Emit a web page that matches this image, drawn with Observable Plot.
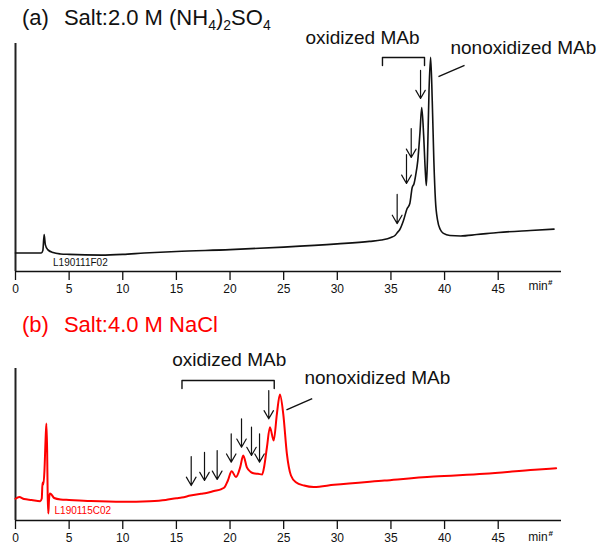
<!DOCTYPE html>
<html>
<head>
<meta charset="utf-8">
<script src="https://cdn.jsdelivr.net/npm/d3@7"></script>
<script src="https://cdn.jsdelivr.net/npm/@observablehq/plot@0.6"></script>
<style>
  html, body { margin: 0; padding: 0; background: #fff; }
  #wrap { position: relative; width: 608px; height: 556px; background: #fff; font-family: "Liberation Sans", Arial, sans-serif; }
  #wrap svg { position: absolute; left: 0; }
  .title { position: absolute; left: 22px; font-size: 22px; line-height: 22px; white-space: nowrap; color: #111; }
  .title .sub { font-size: 14px; position: relative; top: 5px; }
  .title .gap { display: inline-block; width: 15px; }
</style>
</head>
<body>
<div id="wrap">
  <div class="title" id="tA" style="top:7px;">(a)<span class="gap"></span>Salt:2.0 M (NH<span class="sub">4</span>)<span class="sub">2</span>SO<span class="sub">4</span></div>
  <div class="title" id="tB" style="top:314px; color:#ff0000;">(b)<span class="gap"></span>Salt:4.0 M NaCl</div>
</div>
<script>
// ---------- data ----------
const xTicks = [0, 5, 10, 15, 20, 25, 30, 35, 40, 45];

// (a) 2.0 M (NH4)2SO4 chromatogram: retention time (min) and signal (arbitrary units)
const topTime = [0, 2.4, 2.55, 2.67, 2.78, 3.0, 3.5, 4.2, 5, 8, 10, 12, 15, 20, 25, 30, 33, 34.1, 35, 35.4, 35.6, 35.8, 36.17, 36.5, 36.76, 36.98, 37.15, 37.3, 37.5, 37.7, 37.87, 38.05, 38.2, 38.3, 38.4, 38.55, 38.7, 38.85, 39.0, 39.15, 39.35, 39.6, 39.9, 40.5, 41.5, 43, 45, 48, 50.2];
const topSignal = [8.1, 8.1, 9.2, 16.2, 11.8, 9.6, 8.3, 7.7, 7.5, 7.2, 7.5, 8.1, 8.8, 9.6, 10.7, 12.1, 13.2, 13.8, 14.9, 15.9, 17.1, 18.2, 22.4, 27.5, 29.8, 36.8, 38.5, 42.1, 48.5, 60.5, 71.9, 59.6, 44.3, 37.7, 48.7, 79.4, 93.9, 75, 48.7, 31.1, 22.4, 18.4, 16.7, 15.8, 15.6, 16.2, 17.1, 18.0, 18.6];

// (b) 4.0 M NaCl chromatogram
const botTime = [0, 0.35, 0.8, 1.5, 2.3, 2.45, 2.52, 2.6, 2.7, 2.8, 2.88, 2.95, 3.0, 3.06, 3.12, 3.2, 3.35, 3.6, 4.2, 5, 7, 10, 12.5, 14, 15, 15.5, 16.3, 17.3, 17.8, 18.5, 19.2, 19.5, 19.8, 20.15, 20.55, 20.95, 21.23, 21.57, 21.95, 22.3, 22.6, 23.0, 23.2, 23.44, 23.72, 24.07, 24.37, 24.65, 24.96, 25.3, 25.68, 26.14, 26.9, 27.8, 29.7, 34.4, 39, 43.7, 48.4, 50.4];
const botSignal = [14.3, 15.5, 14.1, 13.5, 12.7, 14.5, 25, 23.7, 32.9, 52.6, 63.8, 46, 16.4, 4.6, 13.2, 17.8, 17.1, 14.8, 13.8, 13.5, 12.8, 12.3, 12.7, 13.5, 14.7, 15.1, 16.4, 17.6, 18.1, 19.4, 20.7, 22, 26.3, 32.4, 28.6, 35.1, 42.8, 34.9, 31.8, 30.9, 30.7, 30.3, 36.2, 48.2, 61.4, 52.6, 70.2, 82.9, 70.2, 43.9, 29.6, 25.2, 23, 22, 23.5, 26.3, 28.9, 30.7, 33.4, 34.4];

// annotation arrows (time, signal start -> signal end)
const topArrowX = [35.58, 36.45, 36.89, 37.76];
const topArrowFrom = [33.8, 51.3, 62.7, 88.2];
const topArrowTo = [21.0, 38.6, 50.0, 75.9];

const botArrowX = [16.38, 17.62, 18.80, 20.11, 21.07, 22.0, 22.75, 23.61];
const botArrowFrom = [42.1, 44.9, 46.0, 57.0, 66.9, 61.4, 57.0, 85.5];
const botArrowTo = [23.0, 26.3, 27.0, 38.4, 48.2, 42.8, 38.4, 66.9];

// brackets spanning the oxidized variants
const topBracketX = [34.21, 34.21, 38.13, 38.13];
const topBracketY = [90.35, 93.86, 93.86, 90.35];
const botBracketX = [15.52, 15.52, 24.12, 24.12];
const botBracketY = [86.8, 92.1, 92.1, 86.8];

// leader lines to nonoxidized peak
const topLeader = {x1: 39.43, y1: 85.5, x2: 41.86, y2: 90.4};
const botLeader = {x1: 25.26, y1: 72.8, x2: 27.66, y2: 80.2};

// text labels
const topLabels = [
  {x: 27.03, y: 100.0, text: "oxidized MAb"},
  {x: 40.55, y: 95.6, text: "nonoxidized MAb"}
];
const botLabels = [
  {x: 14.61, y: 101.5, text: "oxidized MAb"},
  {x: 26.94, y: 89.5, text: "nonoxidized MAb"}
];
const topSample = [{x: 3.5, y: 2.6, text: "L190111F02"}];
const botSample = [{x: 3.64, y: 4.4, text: "L190115C02"}];
const topUnit = {x: 47.82, y: -8.3, xs: 49.64, ys: -6.1};
const botUnit = {x: 47.80, y: -13.8, xs: 49.69, ys: -10.5};

// ---------- helpers ----------
const zipRows = (t, v) => t.map((d, i) => ({t: d, v: v[i]}));
const arrowRows = (xs, a, b) => xs.map((d, i) => ({x: d, y1: a[i], y2: b[i]}));
const bracketRows = (xs, ys) => xs.map((d, i) => ({x: d, y: ys[i]}));

function panel({height, marginTop, marginBottom, rows, color, lineWidth, arrows, bracket, leader, labels, sample, unit}) {
  return Plot.plot({
    width: 608,
    height,
    marginLeft: 15,
    marginRight: 47,
    marginTop,
    marginBottom,
    x: {domain: [0, 50.9]},
    y: {domain: [0, 100], axis: null},
    style: {fontFamily: "'Liberation Sans', Arial, sans-serif", color: "#111", background: "transparent", overflow: "visible"},
    marks: [
      Plot.ruleY([0], {stroke: "#111", strokeWidth: 1.5}),
      Plot.ruleX([0], {stroke: "#222", strokeWidth: 2}),
      Plot.axisX({ticks: xTicks, tickSize: 9, tickPadding: 4, fontSize: 12, strokeWidth: 1.3, label: null, tickFormat: d => String(d)}),
      Plot.line(rows, {x: "t", y: "v", stroke: color, strokeWidth: lineWidth, curve: "monotone-x"}),
      Plot.arrow(arrows, {x1: "x", x2: "x", y1: "y1", y2: "y2", stroke: "#111", strokeWidth: 1.2, headLength: 15, headAngle: 60}),
      Plot.line(bracket, {x: "x", y: "y", stroke: "#111", strokeWidth: 1.4}),
      Plot.link([leader], {x1: "x1", y1: "y1", x2: "x2", y2: "y2", stroke: "#111", strokeWidth: 1.4}),
      Plot.text(labels, {x: "x", y: "y", text: "text", textAnchor: "start", lineAnchor: "bottom", fontSize: 19, fill: "#111"}),
      Plot.text(sample, {x: "x", y: "y", text: "text", textAnchor: "start", lineAnchor: "bottom", fontSize: 10, fill: color === "#ff0000" ? "#ff0000" : "#111"}),
      Plot.text([unit], {x: "x", y: "y", text: () => "min", textAnchor: "start", lineAnchor: "bottom", fontSize: 12, fill: "#111"}),
      Plot.text([unit], {x: "xs", y: "ys", text: () => "#", textAnchor: "start", lineAnchor: "bottom", fontSize: 8, fontWeight: "bold", fill: "#111"})
    ]
  });
}

const topPanel = panel({
  height: 300, marginTop: 43, marginBottom: 29,
  rows: zipRows(topTime, topSignal), color: "#111", lineWidth: 1.6,
  arrows: arrowRows(topArrowX, topArrowFrom, topArrowTo),
  bracket: bracketRows(topBracketX, topBracketY),
  leader: topLeader, labels: topLabels, sample: topSample, unit: topUnit
});
const botPanel = panel({
  height: 256, marginTop: 68, marginBottom: 36,
  rows: zipRows(botTime, botSignal), color: "#ff0000", lineWidth: 2,
  arrows: arrowRows(botArrowX, botArrowFrom, botArrowTo),
  bracket: bracketRows(botBracketX, botBracketY),
  leader: botLeader, labels: botLabels, sample: botSample, unit: botUnit
});
topPanel.style.top = "0px";
botPanel.style.top = "300px";
const wrap = document.getElementById("wrap");
wrap.insertBefore(topPanel, wrap.firstChild);
wrap.insertBefore(botPanel, wrap.firstChild);
</script>
</body>
</html>
